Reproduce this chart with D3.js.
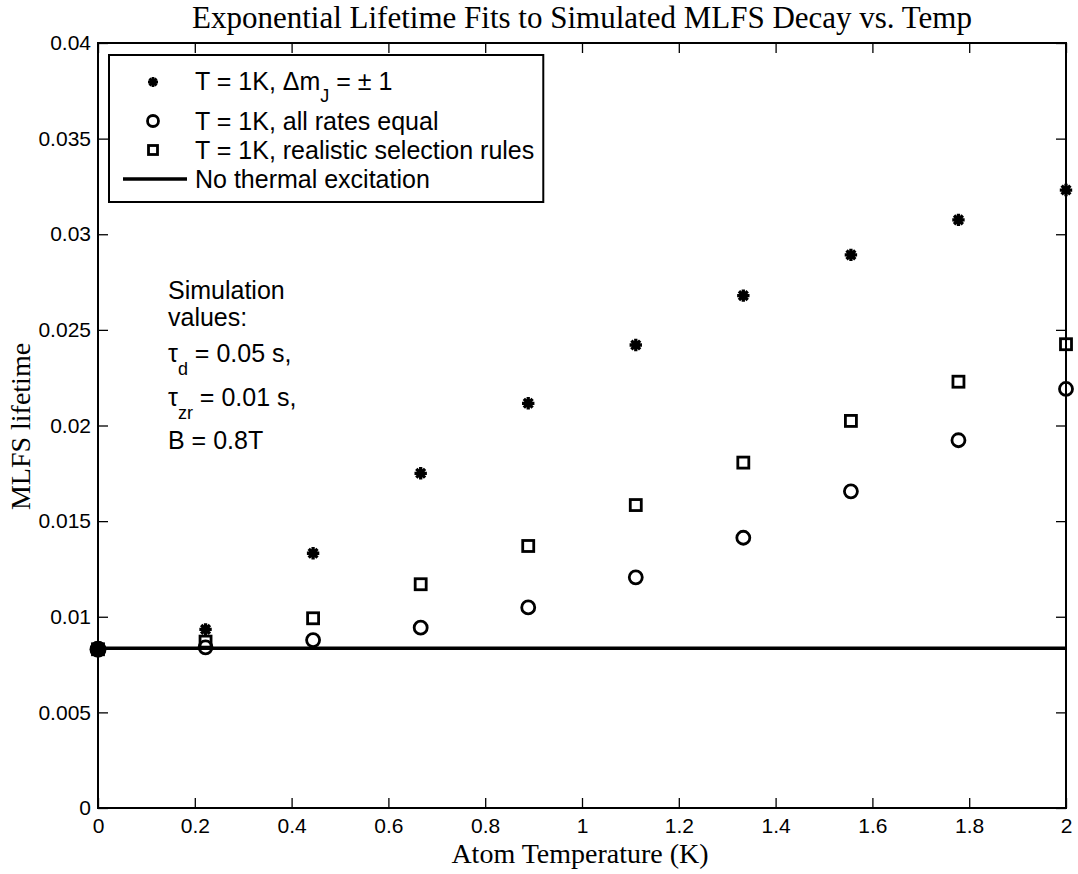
<!DOCTYPE html>
<html>
<head>
<meta charset="utf-8">
<script src="https://cdn.jsdelivr.net/npm/d3@7"></script>
<style>
  html, body { margin: 0; padding: 0; background: #fff; }
  svg { display: block; }
</style>
</head>
<body>
<svg id="chart" width="1078" height="874"></svg>
<script>
// ---------------- data ----------------
const temps = [0, 0.2222, 0.4444, 0.6667, 0.8889, 1.1111, 1.3333, 1.5556, 1.7778, 2.0];
const starVals   = [0.0083, 0.00934, 0.01332, 0.0175, 0.02116, 0.02421, 0.02679, 0.02892, 0.03075, 0.03231];
const circleVals = [0.0083, 0.0084, 0.00878, 0.00943, 0.01049, 0.01206, 0.01413, 0.01656, 0.01923, 0.02191];
const squareVals = [0.0083, 0.0087, 0.00992, 0.0117, 0.0137, 0.01584, 0.01806, 0.02024, 0.02229, 0.02425];
const noThermalValue = 0.00835;
const noThermalPoint = [0, 0.0083];

const xTicks = [0, 0.2, 0.4, 0.6, 0.8, 1, 1.2, 1.4, 1.6, 1.8, 2];
const xTickLabels = ["0", "0.2", "0.4", "0.6", "0.8", "1", "1.2", "1.4", "1.6", "1.8", "2"];
const yTicks = [0, 0.005, 0.01, 0.015, 0.02, 0.025, 0.03, 0.035, 0.04];
const yTickLabels = ["0", "0.005", "0.01", "0.015", "0.02", "0.025", "0.03", "0.035", "0.04"];

const titleText = "Exponential Lifetime Fits to Simulated MLFS Decay vs. Temp";
const xLabelText = "Atom Temperature (K)";
const yLabelText = "MLFS lifetime";
const legendLabels = ["T = 1K, all rates equal", "T = 1K, realistic selection rules", "No thermal excitation"];
const noteLines = ["Simulation", "values:"];

// ---------------- layout ----------------
const svg = d3.select("#chart");
const W = 1078, H = 874;
const m = { left: 98, right: 1066, top: 43, bottom: 808 };
const sans = "'Liberation Sans', Arial, Helvetica, sans-serif";
const serif = "'Liberation Serif', 'Times New Roman', serif";

const x = d3.scaleLinear().domain([0, 2]).range([m.left, m.right]);
const y = d3.scaleLinear().domain([0, 0.04]).range([m.bottom, m.top]);

svg.append("rect").attr("width", W).attr("height", H).attr("fill", "#fff");

function styleAxis(g) {
  g.select(".domain").remove();
  g.selectAll(".tick line").attr("stroke", "#000").attr("stroke-width", 1.3);
  g.selectAll(".tick text").attr("fill", "#000").style("font-family", sans).style("font-size", "21px");
}
svg.append("g").attr("transform", `translate(0,${m.bottom})`)
  .call(d3.axisBottom(x).tickValues(xTicks).tickSize(-10).tickPadding(10)
    .tickFormat((d, i) => xTickLabels[i]))
  .call(styleAxis);
svg.append("g").attr("transform", `translate(0,${m.top})`)
  .call(d3.axisTop(x).tickValues(xTicks).tickSize(-10).tickFormat(""))
  .call(styleAxis);
svg.append("g").attr("transform", `translate(${m.left},0)`)
  .call(d3.axisLeft(y).tickValues(yTicks).tickSize(-10).tickPadding(7)
    .tickFormat((d, i) => yTickLabels[i]))
  .call(styleAxis);
svg.append("g").attr("transform", `translate(${m.right},0)`)
  .call(d3.axisRight(y).tickValues(yTicks).tickSize(-10).tickFormat(""))
  .call(styleAxis);

svg.append("rect")
  .attr("x", m.left).attr("y", m.top)
  .attr("width", m.right - m.left).attr("height", m.bottom - m.top)
  .attr("fill", "none").attr("stroke", "#000").attr("stroke-width", 2);

// ---------------- marks ----------------
function starPath(cx, cy, r) {
  const p = d3.path();
  for (let k = 0; k < 4; k++) {
    const a = k * Math.PI / 4;
    p.moveTo(cx - r * Math.cos(a), cy - r * Math.sin(a));
    p.lineTo(cx + r * Math.cos(a), cy + r * Math.sin(a));
  }
  return p.toString();
}

const plot = svg.append("g");

plot.append("line")
  .attr("x1", x(0)).attr("x2", x(2))
  .attr("y1", y(noThermalValue)).attr("y2", y(noThermalValue))
  .attr("stroke", "#000").attr("stroke-width", 3.5);

plot.selectAll("circle.c").data(temps.map((t, i) => [t, circleVals[i]]))
  .join("circle").attr("class", "c")
  .attr("cx", d => x(d[0])).attr("cy", d => y(d[1])).attr("r", 6.5)
  .attr("fill", "none").attr("stroke", "#000").attr("stroke-width", 2.8);

plot.selectAll("rect.s").data(temps.map((t, i) => [t, squareVals[i]]))
  .join("rect").attr("class", "s")
  .attr("x", d => x(d[0]) - 5.5).attr("y", d => y(d[1]) - 5.5)
  .attr("width", 11).attr("height", 11)
  .attr("fill", "none").attr("stroke", "#000").attr("stroke-width", 2.8);

plot.selectAll("path.st").data(temps.map((t, i) => [t, starVals[i]]))
  .join("path").attr("class", "st")
  .attr("d", d => starPath(x(d[0]), y(d[1]), 6.2))
  .attr("fill", "none").attr("stroke", "#000").attr("stroke-width", 3.3);

plot.append("circle")
  .attr("cx", x(noThermalPoint[0])).attr("cy", y(noThermalPoint[1])).attr("r", 8.5)
  .attr("fill", "#000");

// ---------------- legend ----------------
const leg = svg.append("g");
const legX = 109, legY = 55, legH = 147;
const rowY = [82, 121, 150, 179];
const mx = 153, tx = 195;
const legFont = "25px";

const t1 = leg.append("text").attr("x", tx).attr("y", rowY[0] + 8)
  .style("font-family", sans).style("font-size", legFont);
t1.append("tspan").text("T = 1K, \u0394m");
t1.append("tspan").attr("dy", 12).style("font-size", "18px").text("J");
t1.append("tspan").attr("dy", -12).text(" = \u00b1 1");

legendLabels.forEach((s, i) => {
  leg.append("text").attr("x", tx).attr("y", rowY[i + 1] + 8.5)
    .style("font-family", sans).style("font-size", legFont).text(s);
});

let maxW = 0;
leg.selectAll("text").each(function () { maxW = Math.max(maxW, this.getComputedTextLength()); });
leg.insert("rect", ":first-child")
  .attr("x", legX).attr("y", legY).attr("width", tx - legX + maxW + 9).attr("height", legH)
  .attr("fill", "#fff").attr("stroke", "#000").attr("stroke-width", 2);

leg.append("path").attr("d", starPath(mx, rowY[0], 5)).attr("stroke", "#000").attr("stroke-width", 2.8);
leg.append("circle").attr("cx", mx).attr("cy", rowY[1]).attr("r", 5.5)
  .attr("fill", "none").attr("stroke", "#000").attr("stroke-width", 2.8);
leg.append("rect").attr("x", mx - 4.5).attr("y", rowY[2] - 4.5).attr("width", 9).attr("height", 9)
  .attr("fill", "none").attr("stroke", "#000").attr("stroke-width", 2.8);
leg.append("line").attr("x1", 123).attr("x2", 187).attr("y1", rowY[3]).attr("y2", rowY[3])
  .attr("stroke", "#000").attr("stroke-width", 3.5);

// ---------------- annotation ----------------
const note = svg.append("g").style("font-family", sans).style("font-size", "25px");
const noteX = 168;
note.append("text").attr("x", noteX).attr("y", 299).text(noteLines[0]);
note.append("text").attr("x", noteX).attr("y", 326).text(noteLines[1]);
const n1 = note.append("text").attr("x", noteX).attr("y", 362);
n1.append("tspan").text("\u03c4");
n1.append("tspan").attr("dy", 13).style("font-size", "18px").text("d");
n1.append("tspan").attr("dy", -13).text(" = 0.05 s,");
const n2 = note.append("text").attr("x", noteX).attr("y", 406);
n2.append("tspan").text("\u03c4");
n2.append("tspan").attr("dy", 13).style("font-size", "18px").text("zr");
n2.append("tspan").attr("dy", -13).text(" = 0.01 s,");
note.append("text").attr("x", noteX).attr("y", 449).text("B = 0.8T");

// ---------------- titles ----------------
svg.append("text").attr("x", (m.left + m.right) / 2).attr("y", 28)
  .attr("text-anchor", "middle").style("font-family", serif).style("font-size", "31px")
  .text(titleText);
svg.append("text").attr("x", (m.left + m.right) / 2 - 2).attr("y", 863)
  .attr("text-anchor", "middle").style("font-family", serif).style("font-size", "28px")
  .text(xLabelText);
svg.append("text").attr("transform", `translate(30,${(m.top + m.bottom) / 2 + 1}) rotate(-90)`)
  .attr("text-anchor", "middle").style("font-family", serif).style("font-size", "28px")
  .text(yLabelText);
</script>
</body>
</html>
